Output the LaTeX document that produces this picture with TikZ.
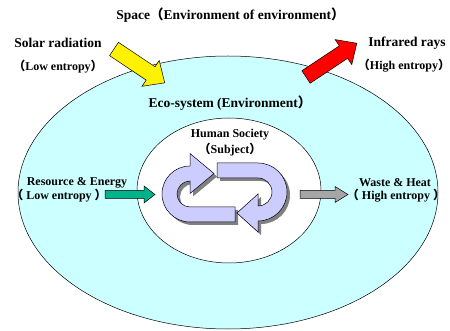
\documentclass[tikz,border=0pt]{standalone}
\usepackage{fontspec}
\setmainfont{Liberation Serif}
\newfontfamily\cjkfont{Noto Sans CJK SC}
\newcommand\flp{{\cjkfont （}}
\newcommand\frp{{\cjkfont ）}}
\definecolor{ecocyan}{RGB}{204,255,255}
\definecolor{lav}{RGB}{204,204,255}
\definecolor{teal}{RGB}{0,178,137}
\definecolor{arrgray}{RGB}{166,166,166}
\definecolor{shd}{RGB}{128,128,128}
\newcommand\blkarrow[8]{%
  \begin{scope}[shift={(#1,#2)},rotate=#3]
    \draw[#8] (0,-#5/2) -- (#4-#7,-#5/2) -- (#4-#7,-#6/2) -- (#4,0)
      -- (#4-#7,#6/2) -- (#4-#7,#5/2) -- (0,#5/2) -- cycle;
  \end{scope}}
\tikzset{
  lbl/.style={font=\bfseries\fontsize{13.5}{15}\selectfont, inner sep=0pt},
  lblm/.style={font=\bfseries\fontsize{12}{14}\selectfont, inner sep=0pt},
  lbls/.style={font=\bfseries\fontsize{12}{14}\selectfont, inner sep=0pt},
  outl/.style={draw=black, line width=0.5pt},
}
\begin{document}
\begin{tikzpicture}[x=1pt,y=-1pt]
\useasboundingbox (0,0) rectangle (450,331);
% ellipses
\draw[outl, fill=ecocyan] (228,192.5) ellipse [x radius=210, y radius=136.5];
\draw[outl, fill=white] (229,190.5) ellipse [x radius=92, y radius=72.5];
% shadows of the cycle arrows
\begin{scope}[shift={(3,3)}]
\fill[shd] (235,207) -- (235,222) -- (190,222) arc[start angle=90,end angle=270,radius=28]
  -- (190,153.5) -- (214,173.5) -- (190,193.5) -- (190,181)
  arc[start angle=270,end angle=90,radius=13] -- cycle;
\fill[shd] (217,163) -- (258,163) arc[start angle=270,end angle=450,radius=29]
  -- (258,232) -- (237,213) -- (258,194) -- (258,206)
  arc[start angle=90,end angle=-90,radius=14] -- (217,178) -- cycle;
\end{scope}
% cycle arrows
\draw[outl, fill=lav] (235,207) -- (235,222) -- (190,222) arc[start angle=90,end angle=270,radius=28]
  -- (190,153.5) -- (214,173.5) -- (190,193.5) -- (190,181)
  arc[start angle=270,end angle=90,radius=13] -- cycle;
\draw[outl, fill=lav] (217,163) -- (258,163) arc[start angle=270,end angle=450,radius=29]
  -- (258,232) -- (237,213) -- (258,194) -- (258,206)
  arc[start angle=90,end angle=-90,radius=14] -- (217,178) -- cycle;
% block arrows
\blkarrow{114}{49}{-33.7}{61}{16}{31}{17}{outl, fill=yellow}
\blkarrow{306}{77}{33.6}{61}{15}{30}{16}{outl, fill=red}
\blkarrow{105}{194.5}{0}{50}{8}{17}{11}{outl, fill=teal}
\blkarrow{300}{194.5}{0}{48}{8}{16}{13}{outl, fill=arrgray}
% labels
\node[lbl] (space) at (230.5,15) {Space\flp Environment of environment\frp};
\node[lbl] (solar) at (58,43) {Solar radiation};
\node[lbls] (solars) at (58,67) {\flp Low entropy\frp};
\node[lbl] (infra) at (407,43) {Infrared rays};
\node[lbls] (infras) at (404,66) {\flp High entropy\frp};
\node[lbl] (eco) at (230,103) {Eco-system (Environment\frp};
\node[lblm] (human) at (230,135) {Human Society};
\node[lblm] (subject) at (230,150) {\flp Subject\frp};
\node[lblm] (res) at (77,183) {Resource \& Energy};
\node[lblm] (ress) at (59,195.5) {\flp\ Low entropy \frp};
\node[lblm] (waste) at (395,183) {Waste \& Heat};
\node[lblm] (wastes) at (396,195.5) {\flp\ High entropy \frp};
\end{tikzpicture}
\end{document}
